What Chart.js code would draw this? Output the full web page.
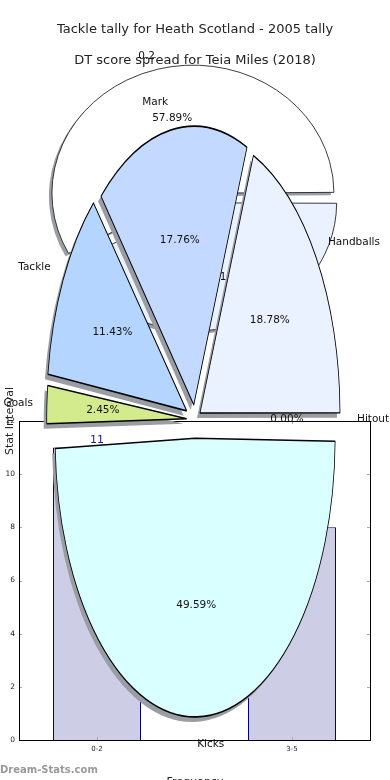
<!DOCTYPE html>
<html lang="en">
<head>
    <meta charset="UTF-8">
    <meta name="viewport" content="width=device-width, initial-scale=1.0">
    <title>Tackle tally for Heath Scotland - 2005 tally</title>
    <script src="https://cdn.jsdelivr.net/npm/chart.js"></script>
    <style>
        html, body { margin: 0; padding: 0; background: #fff; }
        .stage { position: relative; width: 390px; height: 780px; overflow: hidden; }
        .stage canvas { position: absolute; left: 0; top: 0; }
    </style>
</head>
<body>
    <div class="stage">
        <canvas id="barChart" width="390" height="780"></canvas>
        <canvas id="backPie" width="390" height="780"></canvas>
        <canvas id="tacklePie" width="390" height="780"></canvas>
    </div>

    <script>
        // DT score spread (bars)
        const barCats = ['0-2', '3-5'];
        const barValues = [11, 8];
        const yTicks = [0, 2, 4, 6, 8, 10, 12];

        // tackle tally pie, counter-clockwise from 3 o'clock
        const pieLabels = ['Handballs', 'Mark', 'Tackle', 'Goals', 'Kicks', 'Hitout'];
        const pieValues = [18.78, 17.76, 11.43, 2.45, 49.59, 0];

        // second pie sitting behind it
        const backLabels = ['0.2', '0.8'];
        const backValues = [57.89, 42.11];

        // styles
        const pieColors = ['#ebf2ff', '#c4d9ff', '#b3d5ff', '#d3eb8c', '#d9ffff', '#ffd6d6'];
        const pieExplode = [6, 7.5, 9.4, 8.3, 9.4, 8];
        const backColors = ['#ffffff', '#ebf2ff'];
        const backExplode = [5.5, 5.5];

        Chart.defaults.font.family = '"DejaVu Sans", sans-serif';

        const frame = {
            id: 'frame',
            afterDraw(chart) {
                const { ctx, chartArea: a, scales } = chart;
                ctx.save();
                ctx.lineWidth = 1;
                ctx.strokeStyle = '#aaa';
                const line = (x1, y1, x2, y2) => { ctx.beginPath(); ctx.moveTo(x1, y1); ctx.lineTo(x2, y2); ctx.stroke(); };
                yTicks.forEach(v => {
                    const y = Math.round(scales.y.getPixelForValue(v)) + 0.5;
                    line(a.left, y, a.left + 3, y);
                    line(a.right - 3, y, a.right, y);
                });
                barCats.forEach((c, i) => {
                    const x = Math.round(scales.x.getPixelForValue(i)) + 0.5;
                    line(x, a.bottom - 3, x, a.bottom);
                    line(x, a.top, x, a.top + 3);
                });
                ctx.strokeStyle = '#000';
                ctx.strokeRect(Math.round(a.left) + 0.5, Math.round(a.top) + 0.5, Math.round(a.width), Math.round(a.height));

                // value labels
                ctx.fillStyle = '#1a1a9c';
                ctx.font = '11px "DejaVu Sans"';
                ctx.textAlign = 'center';
                ctx.textBaseline = 'middle';
                chart.getDatasetMeta(0).data.forEach((bar, i) => {
                    ctx.fillText(String(barValues[i]), bar.x, bar.y - 7);
                });

                // titles
                ctx.fillStyle = '#222';
                ctx.font = '13px "DejaVu Sans"';
                ctx.fillText('Tackle tally for Heath Scotland - 2005 tally', 195, 30);
                ctx.fillText('DT score spread for Teia Miles (2018)', 195, 61);

                // axis titles
                ctx.font = '11px "DejaVu Sans"';
                ctx.fillText('Frequency', 195, 782);
                ctx.save();
                ctx.translate(10, 421);
                ctx.rotate(-Math.PI / 2);
                ctx.fillText('Stat Interval', 0, 0);
                ctx.restore();

                // watermark
                ctx.fillStyle = '#999';
                ctx.font = 'bold 10px "DejaVu Sans"';
                ctx.textAlign = 'left';
                ctx.fillText('Dream-Stats.com', 0, 770);
                ctx.restore();
            }
        };

        new Chart(document.getElementById('barChart'), {
            type: 'bar',
            data: {
                datasets: [{
                    data: barValues.map((v, i) => ({ x: i, y: v })),
                    backgroundColor: '#cdcde6',
                    borderColor: '#00008b',
                    borderWidth: 1,
                    barPercentage: 88 / 195,
                    categoryPercentage: 1
                }]
            },
            options: {
                responsive: false,
                animation: false,
                devicePixelRatio: 1,
                events: [],
                layout: { padding: { top: 421, left: 0, right: 20, bottom: 0 } },
                plugins: { legend: { display: false }, tooltip: { enabled: false } },
                scales: {
                    x: {
                        type: 'linear',
                        offset: false,
                        min: -0.4,
                        max: 1.4,
                        afterBuildTicks: s => { s.ticks = barCats.map((c, i) => ({ value: i })); },
                        ticks: { callback: v => barCats[v], font: { size: 7 }, color: '#222', padding: 5, maxRotation: 0, autoSkip: false },
                        grid: { display: false, drawTicks: false },
                        border: { color: '#000' },
                        afterFit: s => { s.height = 40; }
                    },
                    y: {
                        min: 0,
                        max: 12,
                        ticks: { stepSize: 2, font: { size: 7.5 }, color: '#222', padding: 4 },
                        grid: { display: false, drawTicks: false },
                        border: { color: '#000' },
                        afterFit: s => { s.width = 19; }
                    }
                }
            },
            plugins: [frame]
        });

        // pie drawn squashed/stretched vertically like the original
        function ellipsePie(id, labels, values, colors, explode, geo) {
            const rev = a => a.slice().reverse();
            const total = values.reduce((s, v) => s + v, 0);

            const squash = {
                id: 'squash',
                beforeDatasetsDraw(chart) {
                    const ctx = chart.ctx;
                    const arcs = chart.getDatasetMeta(0).data;
                    arcs.forEach(arc => {
                        const e = (arc.options.offset || 0) / 4;
                        arc.outerRadius = geo.r - e * (1 - Math.sin(Math.min(Math.PI, arc.circumference || 0)));
                    });
                    const cy = arcs[0].y;
                    ctx.save();
                    ctx.translate(0, cy);
                    ctx.scale(1, geo.k);
                    ctx.translate(0, -cy);

                    // shadow pass: every slice's shadow goes under all slices
                    ctx.save();
                    ctx.shadowColor = '#9a9da4';
                    ctx.shadowOffsetX = geo.shadow[0];
                    ctx.shadowOffsetY = geo.shadow[1];
                    arcs.forEach(arc => {
                        const o = arc.options;
                        arc.options = Object.assign({}, o, { borderWidth: 0 });
                        arc.draw(ctx);
                        arc.options = o;
                    });
                    ctx.restore();
                },
                afterDatasetsDraw(chart) {
                    const ctx = chart.ctx;
                    ctx.restore();
                    const arcs = chart.getDatasetMeta(0).data;
                    const names = chart.data.labels;
                    const vals = chart.data.datasets[0].data;
                    ctx.save();
                    ctx.font = '10.5px "DejaVu Sans"';
                    ctx.fillStyle = '#111';
                    ctx.textBaseline = 'middle';
                    arcs.forEach((arc, i) => {
                        const mid = (arc.startAngle + arc.endAngle) / 2;
                        const e = (arc.options.offset || 0) / 4;
                        const c = Math.cos(mid), s = Math.sin(mid);
                        const at = d => [arc.x + (e + d * geo.r) * c, arc.y + geo.k * (e + d * geo.r) * s];
                        const [lx, ly] = at(1.1);
                        ctx.textAlign = c >= 0 ? 'left' : 'right';
                        ctx.fillText(names[i], lx, ly);
                        const [px, py] = at(0.6);
                        ctx.textAlign = 'center';
                        ctx.fillText((vals[i] / total * 100).toFixed(2) + '%', px, py);
                    });
                    ctx.restore();
                }
            };

            return new Chart(document.getElementById(id), {
                type: 'pie',
                data: {
                    labels: rev(labels),
                    datasets: [{
                        data: rev(values),
                        backgroundColor: rev(colors),
                        borderColor: '#000',
                        borderWidth: 0.8,
                        offset: rev(explode).map(e => e * 4),
                        clip: false
                    }]
                },
                options: {
                    responsive: false,
                    animation: false,
                    devicePixelRatio: 1,
                    events: [],
                    radius: geo.r,
                    rotation: 90,
                    layout: { padding: geo.pad },
                    plugins: { legend: { display: false }, tooltip: { enabled: false } }
                },
                plugins: [squash]
            });
        }

        ellipsePie('backPie', backLabels, backValues, backColors, backExplode, {
            r: 141, k: 0.908, shadow: [-3, 3],
            pad: { left: 0, right: 1.4, top: 48, bottom: 432 }
        });

        ellipsePie('tacklePie', pieLabels, pieValues, pieColors, pieExplode, {
            r: 140, k: 1.99, shadow: [-3, 5],
            pad: { left: 0, right: 0, top: 269.6, bottom: 210.4 }
        });
    </script>
</body>
</html>
